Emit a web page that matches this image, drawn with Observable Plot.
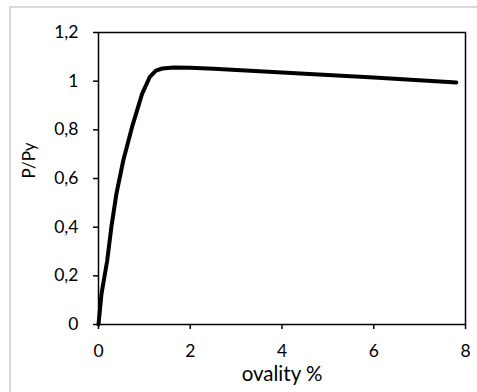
<!DOCTYPE html>
<html>
<head>
<meta charset="utf-8">
<script src="https://cdn.jsdelivr.net/npm/d3@7"></script>
<script src="https://cdn.jsdelivr.net/npm/@observablehq/plot@0.6"></script>
<style>
  html, body { margin: 0; padding: 0; background: #fff; }
  #wrap { position: relative; width: 477px; height: 392px; overflow: hidden; }
  #border { position: absolute; left: 9px; top: 6px; width: 600px; height: 600px; border-top: 2px solid #d9d9d9; border-left: 2px solid #d9d9d9; }
  #chart { position: absolute; left: 0; top: 0; }
</style>
</head>
<body>
<div id="wrap"><div id="border"></div><div id="chart"></div></div>
<script>
const ovality = [0, 0.065, 0.19, 0.28, 0.39, 0.54, 0.73, 0.95, 1.12, 1.25, 1.39, 1.64, 2.0, 2.51, 4.4, 6.0, 7.8];
const pRatio  = [0, 0.126, 0.263, 0.40, 0.537, 0.674, 0.811, 0.948, 1.018, 1.043, 1.052, 1.056, 1.055, 1.051, 1.032, 1.015, 0.995];
const xTicks = [0, 2, 4, 6, 8];
const yTicks = [0, 0.2, 0.4, 0.6, 0.8, 1.0, 1.2];
const xLabel = "ovality %";
const yLabel = "P/Py";

const data = ovality.map((x, i) => ({x, y: pRatio[i]}));
const fmt = d => String(+d.toFixed(1)).replace(".", ",");

const chart = Plot.plot({
  width: 477,
  height: 392,
  marginLeft: 98,
  marginRight: 12,
  marginTop: 32,
  marginBottom: 68,
  style: {fontFamily: "Lato, sans-serif", fontSize: "17.5px", color: "#000", background: "transparent"},
  x: {domain: [0, 8]},
  y: {domain: [0, 1.2]},
  marks: [
    Plot.frame({stroke: "#000", strokeWidth: 1.5}),
    Plot.axisX({ticks: xTicks, tickFormat: fmt, tickSize: 5, tickPadding: 15, label: null, stroke: "#000", strokeWidth: 1.5, fill: "#000", fontSize: 17.5}),
    Plot.axisY({ticks: yTicks, tickFormat: fmt, tickSize: 5, tickPadding: 15, label: null, stroke: "#000", strokeWidth: 1.5, fill: "#000", fontSize: 17.5}),
    Plot.line(data, {x: "x", y: "y", stroke: "#000", strokeWidth: 4, strokeLinejoin: "round", strokeLinecap: "round", curve: "linear"}),
    Plot.text([xLabel], {frameAnchor: "bottom", dy: 56, text: d => d, fontSize: 20.5, fill: "#000"}),
    Plot.text([yLabel], {frameAnchor: "left", dx: -69, rotate: -90, text: d => d, fontSize: 17, fill: "#000"})
  ]
});
document.getElementById("chart").appendChild(chart);
</script>
</body>
</html>
